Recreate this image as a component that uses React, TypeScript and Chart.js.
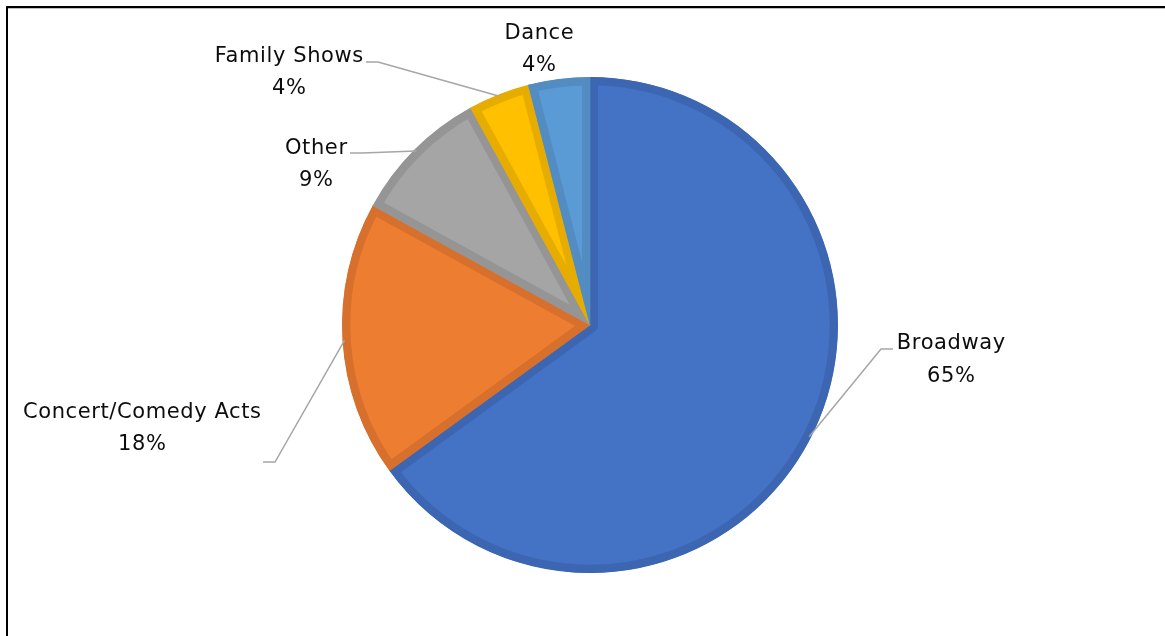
import React, { useEffect, useRef } from "react";
import { Chart, registerables } from "chart.js";

Chart.register(...registerables);

const categories = ["Broadway", "Concert/Comedy Acts", "Other", "Family Shows", "Dance"];
const shares = [65, 18, 9, 4, 4];
const fillColors = ["#4472C4", "#ED7D31", "#A5A5A5", "#FFC000", "#5B9BD5"];
const edgeColors = ["#3C66B2", "#D6702C", "#959595", "#E6AD00", "#528CC1"];

// label layout, offsets relative to the pie centre (px)
const labelLayout = [
  { tx: 361, ty1: 19, ty2: 52, lead: [[303, 24], [291, 24]] },
  { tx: -448, ty1: 88, ty2: 120, lead: [[-327, 137], [-315, 137]] },
  { tx: -274, ty1: -176, ty2: -144, lead: [[-240, -172], [-228, -172]] },
  { tx: -301, ty1: -268, ty2: -236, lead: [[-224, -263], [-212, -263]] },
  { tx: -51, ty1: -291, ty2: -259, lead: null },
];

const FONT = "21px 'DejaVu Sans', sans-serif";
const SPACING = 0.6;

const labelPlugin = {
  id: "outsideLabels",
  afterDatasetsDraw(chart: any) {
    const ctx = chart.ctx;
    const meta = chart.getDatasetMeta(0);
    const total = shares.reduce((a, b) => a + b, 0);
    ctx.save();
    meta.data.forEach((arc: any, i: number) => {
      const p = arc.getProps(["x", "y", "startAngle", "endAngle", "outerRadius"], true);
      const cx = p.x;
      const cy = p.y;
      const mid = (p.startAngle + p.endAngle) / 2;
      const L = labelLayout[i];
      if (L.lead) {
        const ex = cx + Math.cos(mid) * (p.outerRadius - 2);
        const ey = cy + Math.sin(mid) * (p.outerRadius - 2);
        ctx.beginPath();
        ctx.strokeStyle = "#A6A6A6";
        ctx.lineWidth = 1.5;
        ctx.moveTo(cx + L.lead[0][0], cy + L.lead[0][1]);
        ctx.lineTo(cx + L.lead[1][0], cy + L.lead[1][1]);
        ctx.lineTo(ex, ey);
        ctx.stroke();
      }
      ctx.fillStyle = "#0D0D0D";
      ctx.font = FONT;
      (ctx as any).letterSpacing = SPACING + "px";
      ctx.textAlign = "center";
      ctx.textBaseline = "middle";
      const shift = SPACING / 2;
      ctx.fillText(categories[i], cx + L.tx + shift, cy + L.ty1);
      ctx.fillText(Math.round((shares[i] / total) * 100) + "%", cx + L.tx + shift, cy + L.ty2);
    });
    ctx.restore();
  },
};

export default function App() {
  const ref = useRef<HTMLCanvasElement | null>(null);
  useEffect(() => {
    if (!ref.current) return;
    const chart = new Chart(ref.current, {
      type: "pie",
      data: {
        labels: categories,
        datasets: [
          {
            data: shares,
            backgroundColor: fillColors,
            borderColor: edgeColors,
            borderWidth: 8,
            borderAlign: "inner",
          } as any,
        ],
      },
      options: {
        animation: false,
        responsive: false,
        maintainAspectRatio: false,
        layout: { padding: { left: 342, right: 327, top: 77, bottom: 63 } },
        plugins: {
          legend: { display: false },
          tooltip: { enabled: false },
          title: { display: false },
        },
      },
      plugins: [labelPlugin],
    });
    return () => chart.destroy();
  }, []);
  return (
    <div style={{ position: "absolute", left: 0, top: 0, width: 1165, height: 636, background: "#fff", overflow: "hidden" }}>
      <canvas ref={ref} width={1165} height={636} style={{ position: "absolute", left: 0, top: 0, width: 1165, height: 636 }} />
      <div
        style={{
          position: "absolute",
          left: 6,
          top: 6,
          width: 1200,
          height: 700,
          borderTop: "2px solid #000",
          borderLeft: "2px solid #000",
          boxShadow: "inset 0 1px 0 #BFBFBF",
          pointerEvents: "none",
        }}
      />
    </div>
  );
}
